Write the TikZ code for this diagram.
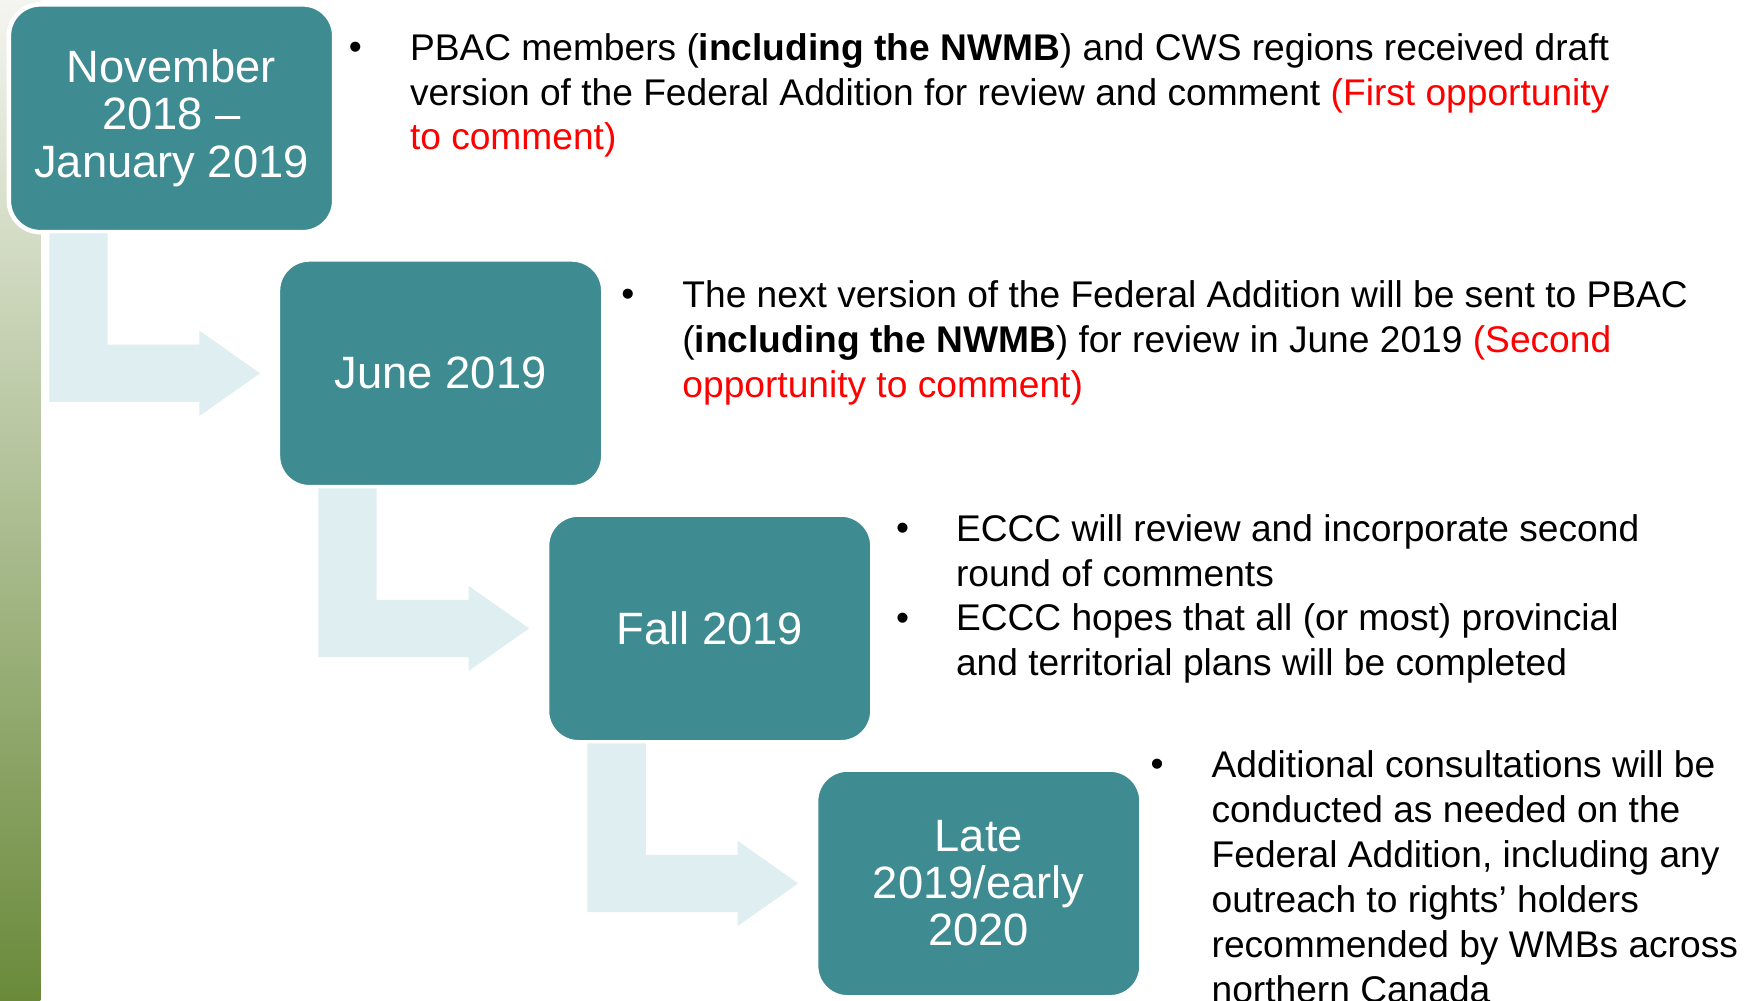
\documentclass[tikz,border=0pt]{standalone}
\usepackage{fontspec}
\setmainfont{Liberation Sans}
\usetikzlibrary{calc}
\definecolor{tealbox}{HTML}{3E8B91}
\definecolor{arrowblue}{HTML}{DFEEF1}
\definecolor{redtxt}{HTML}{FF0000}
\definecolor{bartop}{HTML}{F4F5F0}
\definecolor{barbot}{HTML}{6A8A3A}
\newcommand{\firstline}{\rule{0pt}{0.8em}}
\newcommand{\bentarrow}[2]{%
  \fill[bentfill] let \p1=(#1.south west), \p2=(#2.west) in
    (\x1+0.36cm,\y1-0.01cm) -- (\x1+0.88cm,\y1-0.01cm) -- (\x1+0.88cm,\y2+0.255cm)
    -- (\x2-0.70cm,\y2+0.255cm) -- (\x2-0.70cm,\y2+0.38cm) -- (\x2-0.16cm,\y2)
    -- (\x2-0.70cm,\y2-0.38cm) -- (\x2-0.70cm,\y2-0.255cm) -- (\x1+0.36cm,\y2-0.255cm) -- cycle;}
\begin{document}
\begin{tikzpicture}[x=0.01cm,y=-0.01cm,
  datebox/.style={fill=tealbox, draw=white, line width=0.04cm, rounded corners=0.28cm,
    minimum width=2.90cm, minimum height=2.03cm, inner sep=0pt, outer sep=0pt,
    align=center, text=white, font=\fontsize{11.5}{11.95}\selectfont},
  bodytext/.style={anchor=north west, inner sep=0pt, align=left,
    font=\fontsize{9.42}{11.38}\selectfont},
  bulletmark/.style={anchor=base, inner sep=0pt, font=\fontsize{9.42}{11.38}\selectfont},
  bentfill/.style={fill=arrowblue}]
\useasboundingbox (0,0) rectangle (1568,892);
\fill[white] (0,0) rectangle (1568,892);
\shade[top color=bartop, bottom color=barbot] (0,0) rectangle (36,892);

\node[datebox] (b1) at (153,105.5) {November\\2018 –\\January 2019};
\node[datebox] (b2) at (393,333) {June 2019};
\node[datebox] (b3) at (633,560.5) {Fall 2019};
\node[datebox] (b4) at (873,788) {Late\\2019/early\\2020};

\bentarrow{b1}{b2}
\bentarrow{b2}{b3}
\bentarrow{b3}{b4}

\node[bulletmark] (k1) at (317,53) {•};
\node[bodytext] (t1) at (365,26.5) {\firstline PBAC members (\textbf{including the NWMB}) and CWS regions received draft\\version of the Federal Addition for review and comment \textcolor{redtxt}{(First opportunity}\\\textcolor{redtxt}{to comment)}};

\node[bulletmark] (k2) at (560,273.5) {•};
\node[bodytext] (t2) at (608,247) {\firstline The next version of the Federal Addition will be sent to PBAC\\(\textbf{including the NWMB}) for review in June 2019 \textcolor{redtxt}{(Second}\\\textcolor{redtxt}{opportunity to comment)}};

\node[bulletmark] (k3) at (805,482) {•};
\node[bodytext] (t3) at (852,455.5) {\firstline ECCC will review and incorporate second\\round of comments};
\node[bulletmark] (k4) at (805,562) {•};
\node[bodytext] (t4) at (852,535.5) {\firstline ECCC hopes that all (or most) provincial\\and territorial plans will be completed};

\node[bulletmark] (k5) at (1032,693) {•};
\node[bodytext] (t5) at (1080,666.5) {\firstline Additional consultations will be\\conducted as needed on the\\Federal Addition, including any\\outreach to rights’ holders\\recommended by WMBs across\\northern Canada};
\end{tikzpicture}
\end{document}
